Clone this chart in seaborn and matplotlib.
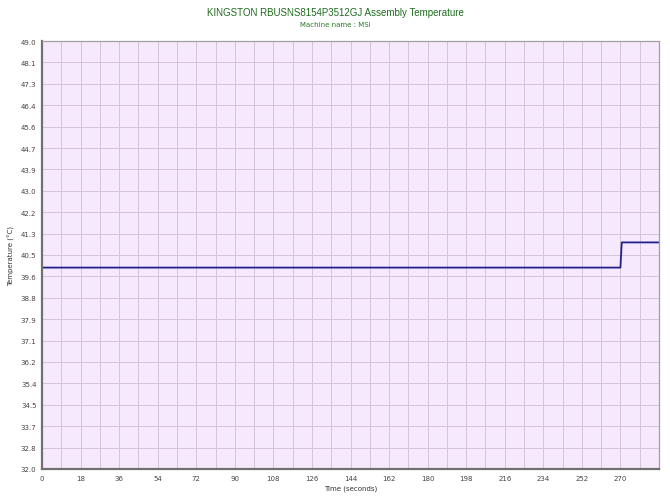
"""KINGSTON RBUSNS8154P3512GJ assembly temperature over time."""

import matplotlib

matplotlib.use("Agg")
import matplotlib.pyplot as plt
import numpy as np
import pandas as pd
import seaborn as sns

# data
time_s = [0, 270, 270.6, 288]
temp_c = [40.0, 40.0, 41.0, 41.0]
x_ticks = [0, 18, 36, 54, 72, 90, 108, 126, 144, 162, 180, 198, 216, 234, 252, 270]
y_ticks = [32.0, 32.8, 33.7, 34.5, 35.4, 36.2, 37.1, 37.9, 38.8, 39.6, 40.5,
           41.3, 42.2, 43.0, 43.9, 44.7, 45.6, 46.4, 47.3, 48.1, 49.0]

df = pd.DataFrame({"time": time_s, "temp": temp_c})

sns.set_theme(style="white")
plt.rcParams["font.family"] = ["DejaVu Sans"]

fig = plt.figure(figsize=(6.7, 5.02), dpi=100)
ax = fig.add_axes([42 / 670, 1 - 470 / 502, 617 / 670, 428 / 502])
ax.set_facecolor("#f6e9fd")

sns.lineplot(data=df, x="time", y="temp", ax=ax, color="#22228a", linewidth=1.3)

ax.set_xlim(0, 288)
ax.set_ylim(32.0, 49.0)
ax.set_xticks(x_ticks)
ax.set_xticks(np.arange(9, 288, 18), minor=True)
ax.set_yticks(np.linspace(32.0, 49.0, 21))
ax.set_yticklabels([f"{v:.1f}" for v in y_ticks])
ax.grid(True, which="both", color="#d2c4d4", linewidth=0.7)
ax.tick_params(axis="both", which="major", labelsize=5, colors="#444444",
               length=0, pad=4)
ax.tick_params(axis="both", which="minor", length=0)

for side in ("left", "bottom"):
    ax.spines[side].set_color("#707070")
    ax.spines[side].set_linewidth(1.6)
for side in ("top", "right"):
    ax.spines[side].set_color("#a0a0a0")
    ax.spines[side].set_linewidth(0.9)

ax.set_xlabel("Time (seconds)", fontsize=5, color="#333333", labelpad=3)
ax.set_ylabel("Temperature (°C)", fontsize=5, color="#333333", labelpad=4)

fig.text(0.5, 1 - 13 / 502, "KINGSTON RBUSNS8154P3512GJ Assembly Temperature",
         ha="center", va="center", fontsize=7, color="#1f6b1f",
         family=["Liberation Sans", "DejaVu Sans"])
fig.text(0.5, 1 - 25 / 502, "Machine name : MSI",
         ha="center", va="center", fontsize=5, color="#2a7a2a")

fig.savefig("out.png", dpi=100)
plt.close(fig)
